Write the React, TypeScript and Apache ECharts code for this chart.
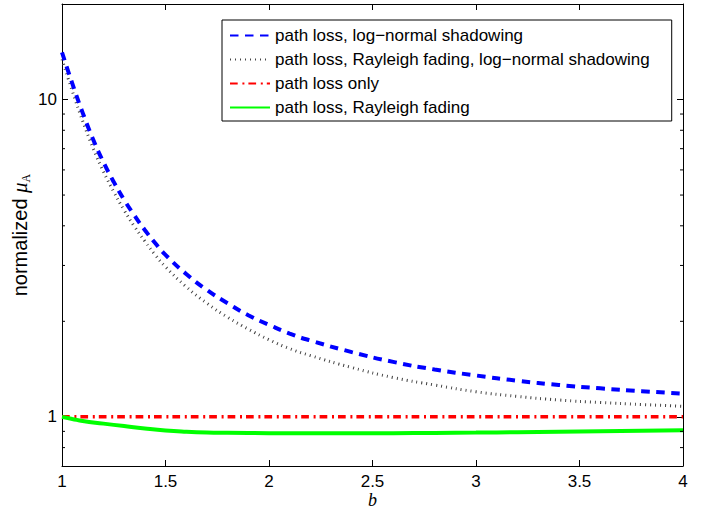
import React, { useEffect, useRef } from "react";
import * as echarts from "echarts";

// ---- data ----
const bBlue = [1.0, 1.05, 1.1, 1.15, 1.2, 1.25, 1.3, 1.35, 1.4, 1.45, 1.5, 1.6, 1.7, 1.8, 1.9, 2.0, 2.1, 2.2, 2.4, 2.6, 2.8, 3.0, 3.2, 3.4, 3.6, 3.8, 4.0];
const muShadow = [14.09, 11.22, 9.08, 7.5, 6.35, 5.5, 4.83, 4.31, 3.88, 3.53, 3.24, 2.82, 2.51, 2.28, 2.09, 1.95, 1.83, 1.74, 1.6, 1.49, 1.41, 1.35, 1.3, 1.26, 1.23, 1.205, 1.183];
const muFadingShadow = [13.4, 10.62, 8.55, 7.03, 5.93, 5.12, 4.48, 3.98, 3.58, 3.24, 2.97, 2.57, 2.28, 2.06, 1.89, 1.75, 1.64, 1.56, 1.43, 1.33, 1.26, 1.2, 1.16, 1.13, 1.11, 1.094, 1.079];
const bLoss = [1.0, 4.0];
const muLoss = [1.0, 1.0];
const bFading = [1.0, 1.05, 1.1, 1.2, 1.3, 1.4, 1.5, 1.6, 1.7, 1.8, 2.0, 2.2, 2.4, 2.6, 2.8, 3.0, 3.2, 3.4, 3.6, 3.8, 4.0];
const muFading = [1.0, 0.985, 0.97, 0.952, 0.935, 0.919, 0.906, 0.898, 0.893, 0.891, 0.888, 0.887, 0.887, 0.888, 0.89, 0.892, 0.895, 0.898, 0.901, 0.904, 0.907];

const seriesNames = [
  "path loss, log\u2212normal shadowing",
  "path loss, Rayleigh fading, log\u2212normal shadowing",
  "path loss only",
  "path loss, Rayleigh fading",
];
const xTicks = { min: 1, max: 4, interval: 0.5 };
const yRange = { min: 0.7, max: 20 };
const yMajorLabels = [1, 10];
const yMinorTicks = [0.8, 0.9, 2, 3, 4, 5, 6, 7, 8, 9];

const FONT = "'Liberation Sans', Arial, Helvetica, sans-serif";
const SERIF = "'Liberation Serif', 'DejaVu Serif', serif";

const pair = (xs: number[], ys: number[]) => xs.map((x, i) => [x, ys[i]]);

export default function App() {
  const ref = useRef<HTMLDivElement>(null);
  useEffect(() => {
    if (!ref.current) return;
    const chart = echarts.init(ref.current, undefined, { renderer: "svg" });
    const axisCommon = {
      axisLine: { show: true, onZero: false, lineStyle: { color: "#000", width: 1 } },
      splitLine: { show: false },
    };
    const tick = { show: true, inside: true, length: 6, lineStyle: { color: "#000" } };
    const option: any = {
      animation: false,
      backgroundColor: "#fff",
      grid: { left: 62, right: 19, top: 4, bottom: 44, containLabel: false, outerBoundsMode: "none" },
      legend: {
        data: seriesNames,
        orient: "vertical",
        left: 222,
        top: 20,
        padding: [7, 22, 5, 7],
        itemWidth: 40,
        itemHeight: 14,
        itemGap: 7,
        borderColor: "#000",
        borderWidth: 1,
        borderRadius: 0,
        backgroundColor: "#fff",
        selectedMode: false,
        itemStyle: { opacity: 0, borderWidth: 0 },
        textStyle: { fontFamily: FONT, fontSize: 17, color: "#000", lineHeight: 16 },
      },
      xAxis: [
        {
          type: "value",
          min: xTicks.min,
          max: xTicks.max,
          interval: xTicks.interval,
          position: "bottom",
          ...axisCommon,
          axisTick: tick,
          axisLabel: { fontFamily: FONT, fontSize: 17, color: "#000", margin: 7 },
          name: "b",
          nameLocation: "middle",
          nameGap: 25,
          nameMoveOverlap: false,
          nameTextStyle: { fontFamily: SERIF, fontStyle: "italic", fontSize: 18, color: "#000" },
        },
        {
          type: "value",
          min: xTicks.min,
          max: xTicks.max,
          interval: xTicks.interval,
          position: "top",
          ...axisCommon,
          axisTick: tick,
          axisLabel: { show: false },
        },
      ],
      yAxis: [
        {
          type: "log",
          logBase: 10,
          min: yRange.min,
          max: yRange.max,
          position: "left",
          ...axisCommon,
          axisTick: tick,
          axisLabel: {
            fontFamily: FONT,
            fontSize: 17,
            color: "#000",
            margin: 5,
            showMinLabel: false,
            showMaxLabel: false,
            formatter: (v: number) => {
              const m = yMajorLabels.find((t) => Math.abs(t - v) < 1e-6 * t);
              return m !== undefined ? String(m) : "";
            },
          },
          name: "normalized {mu|\u03bc}{sub|A}",
          nameLocation: "middle",
          nameRotate: 90,
          nameGap: 30,
          nameMoveOverlap: false,
          nameTextStyle: {
            fontFamily: FONT,
            fontSize: 20,
            color: "#000",
            rich: {
              mu: { fontFamily: SERIF, fontStyle: "italic", fontSize: 21, color: "#000" },
              sub: { fontFamily: SERIF, fontSize: 12, color: "#000", verticalAlign: "top", padding: [12, 0, 0, 0] },
            },
          },
        },
        {
          type: "log",
          logBase: 10,
          min: yRange.min,
          max: yRange.max,
          position: "right",
          ...axisCommon,
          axisTick: tick,
          axisLabel: { show: false },
        },
      ],
      series: [
        {
          name: seriesNames[0],
          type: "line",
          data: pair(bBlue, muShadow),
          symbol: "none",
          smooth: 0.5,
          lineStyle: { color: "#0000ff", width: 4, type: [8.5, 6.5], cap: "butt" },
          itemStyle: { color: "#0000ff" },
          z: 4,
        },
        {
          name: seriesNames[1],
          type: "line",
          data: pair(bBlue, muFadingShadow),
          symbol: "none",
          smooth: 0.5,
          lineStyle: { color: "#444", width: 3, type: [1, 4], cap: "butt" },
          itemStyle: { color: "#444" },
          z: 3,
        },
        {
          name: seriesNames[2],
          type: "line",
          data: pair(bLoss, muLoss),
          symbol: "none",
          lineStyle: { color: "#ff0000", width: 3.5, type: [7.7, 4.7, 2, 4], cap: "butt" },
          itemStyle: { color: "#ff0000" },
          z: 3,
        },
        {
          name: seriesNames[3],
          type: "line",
          data: pair(bFading, muFading),
          symbol: "none",
          smooth: 0.5,
          lineStyle: { color: "#00ff00", width: 4, type: "solid" },
          itemStyle: { color: "#00ff00" },
          z: 3,
        },
        {
          name: "minorTicks",
          type: "custom",
          silent: true,
          clip: false,
          data: yMinorTicks.map((v) => [xTicks.min, v]),
          renderItem: (params: any, api: any) => {
            const v = api.value(1);
            const pl = api.coord([xTicks.min, v]);
            const pr = api.coord([xTicks.max, v]);
            return {
              type: "group",
              children: [
                { type: "line", shape: { x1: pl[0], y1: pl[1], x2: pl[0] + 3, y2: pl[1] }, style: { stroke: "#000", lineWidth: 1 } },
                { type: "line", shape: { x1: pr[0] - 3, y1: pr[1], x2: pr[0], y2: pr[1] }, style: { stroke: "#000", lineWidth: 1 } },
              ],
            };
          },
          z: 5,
        },
      ],
    };
    chart.setOption(option);
    return () => chart.dispose();
  }, []);
  return <div ref={ref} style={{ position: "fixed", left: 0, top: 0, width: 702, height: 510 }} />;
}
